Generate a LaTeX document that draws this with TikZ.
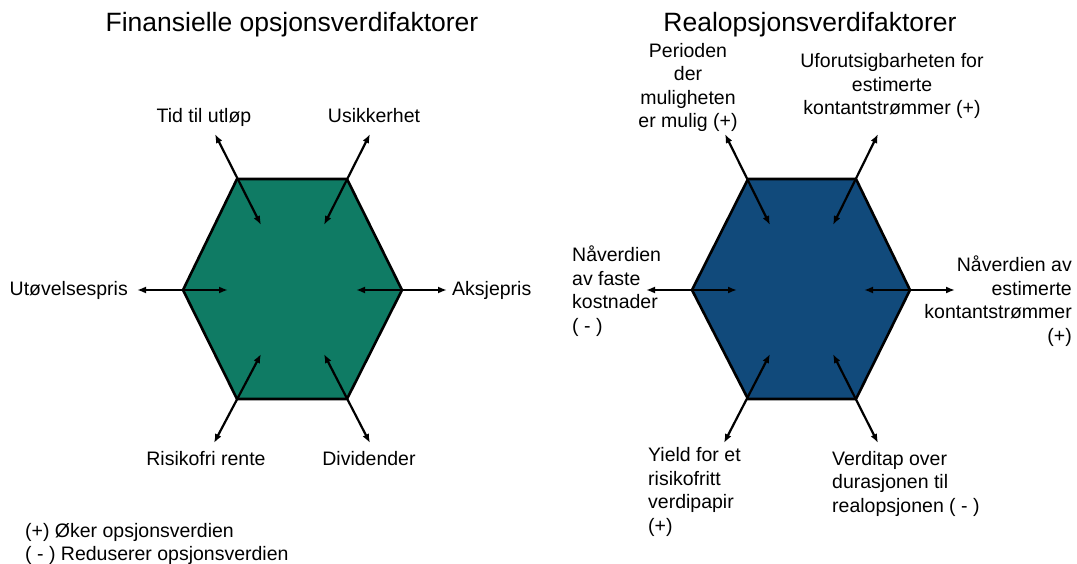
\documentclass[tikz,border=0pt]{standalone}
\usepackage{fontspec}
\setmainfont{Liberation Sans}
\usetikzlibrary{arrows.meta}
\definecolor{finfill}{HTML}{0F7B64}
\definecolor{realfill}{HTML}{114A7B}

\begin{document}
\begin{tikzpicture}[x=1pt,y=-1pt,
  hexa/.style={draw=black,line width=2.6pt,line join=miter},
  factor/.style={draw=black,line width=2.2pt,
    {Latex[length=9pt,width=7pt]}-{Latex[length=9pt,width=7pt]}},
  lbl/.style={font=\fontsize{19.5}{23.5}\selectfont,inner sep=0pt,anchor=base},
  heading/.style={font=\fontsize{26.5}{30}\selectfont,inner sep=0pt,anchor=base},
]
\useasboundingbox (0,0) rectangle (1077,564);

% ---------- financial option value drivers ----------
\node[heading] (ftitle) at (292,32) {Finansielle opsjonsverdifaktorer};

\coordinate (fTL) at (237,179);
\coordinate (fTR) at (347,179);
\coordinate (fR)  at (402,290);
\coordinate (fBR) at (347,399);
\coordinate (fBL) at (237,399);
\coordinate (fL)  at (183,290);
\draw[hexa,fill=finfill] (fTL) -- (fTR) -- (fR) -- (fBR) -- (fBL) -- (fL) -- cycle;

\coordinate (fTLi) at (261,225); \coordinate (fTLo) at (215,134);
\coordinate (fTRi) at (324,225); \coordinate (fTRo) at (370,134);
\coordinate (fLi)  at (228,290); \coordinate (fLo)  at (137,290);
\coordinate (fRi)  at (356,290); \coordinate (fRo)  at (447,290);
\coordinate (fBLi) at (261,354); \coordinate (fBLo) at (214,443);
\coordinate (fBRi) at (324,354); \coordinate (fBRo) at (370,443);
\foreach \p in {TL,TR,L,R,BL,BR} \draw[factor] (f\p i) -- (f\p o);

\node[lbl] (tid)  at (204,123) {Tid til utløp};
\node[lbl] (usik) at (374,123) {Usikkerhet};
\node[lbl,anchor=base east] (utov) at (128,295) {Utøvelsespris};
\node[lbl,anchor=base west] (aksj) at (452,295) {Aksjepris};
\node[lbl] (risk) at (206,465) {Risikofri rente};
\node[lbl] (divi) at (369,465) {Dividender};

\node[lbl,anchor=base west] (legplus)  at (25,537) {(+) Øker opsjonsverdien};
\node[lbl,anchor=base west] (legminus) at (25,560) {( - ) Reduserer opsjonsverdien};

% ---------- real option value drivers ----------
\node[heading] (rtitle) at (810,32) {Realopsjonsverdifaktorer};

\coordinate (rTL) at (748,179);
\coordinate (rTR) at (856,179);
\coordinate (rR)  at (910,290);
\coordinate (rBR) at (856,399);
\coordinate (rBL) at (748,399);
\coordinate (rL)  at (692,290);
\draw[hexa,fill=realfill] (rTL) -- (rTR) -- (rR) -- (rBR) -- (rBL) -- (rL) -- cycle;

\coordinate (rTLi) at (770,225); \coordinate (rTLo) at (725,134);
\coordinate (rTRi) at (833,225); \coordinate (rTRo) at (878,134);
\coordinate (rLi)  at (737,290); \coordinate (rLo)  at (646,290);
\coordinate (rRi)  at (864,290); \coordinate (rRo)  at (955,290);
\coordinate (rBLi) at (770,354); \coordinate (rBLo) at (724,443);
\coordinate (rBRi) at (833,354); \coordinate (rBRo) at (878,443);
\foreach \p in {TL,TR,L,R,BL,BR} \draw[factor] (r\p i) -- (r\p o);

% multi-line labels are placed by the baseline of their last line
\node[lbl,align=center] (peri) at (688,128) {Perioden\\der\\muligheten\\er mulig (+)};
\node[lbl,align=center] (ufor) at (892,115) {Uforutsigbarheten for\\estimerte\\kontantstrømmer (+)};
\node[lbl,align=left,anchor=base west] (fast) at (572,332) {Nåverdien\\av faste\\kostnader\\( - )};
\node[lbl,align=right,anchor=base east] (kont) at (1072,342) {Nåverdien av\\estimerte\\kontantstrømmer\\(+)};
\node[lbl,align=left,anchor=base west] (yield) at (648,532) {Yield for et\\risikofritt\\verdipapir\\(+)};
\node[lbl,align=left,anchor=base west] (tap) at (832,512) {Verditap over\\durasjonen til\\realopsjonen ( - )};
\end{tikzpicture}
\end{document}
